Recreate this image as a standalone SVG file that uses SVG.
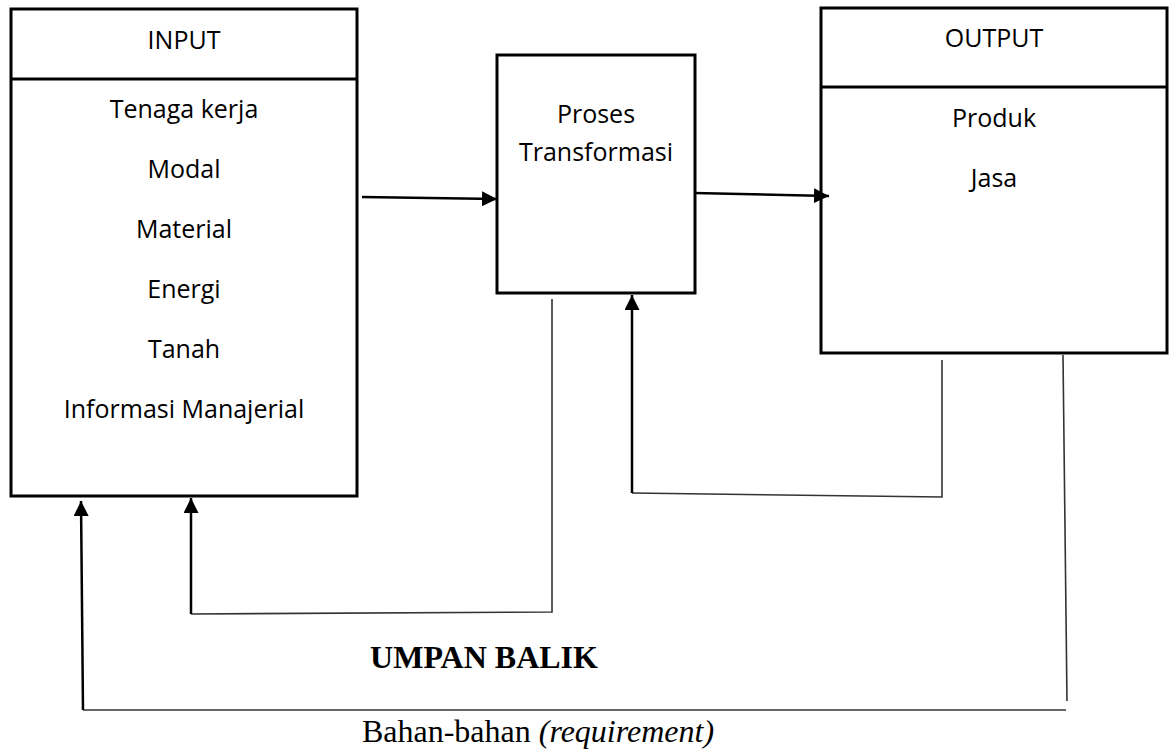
<svg xmlns="http://www.w3.org/2000/svg" width="1171" height="749" viewBox="0 0 1171 749">
  <style>
    .box { fill: #ffffff; stroke: #000000; stroke-width: 3; }
    .sep { stroke: #000000; stroke-width: 3; }
    .lbl { font-family: "Open Sans", "Noto Sans", sans-serif; font-size: 25px; fill: #000000; text-anchor: middle; }
    .thick { fill: none; stroke: #000000; stroke-width: 2.5; }
    .thin { fill: none; stroke: #333333; stroke-width: 1.6; }
    .serif { font-family: "Liberation Serif", "Times New Roman", serif; font-size: 32px; fill: #000000; }
  </style>
  <defs>
    <marker id="arr" markerUnits="userSpaceOnUse" markerWidth="16" markerHeight="15" refX="15" refY="7.5" orient="auto">
      <path d="M0,0 L15,7.5 L0,15 Z" fill="#000000"/>
    </marker>
  </defs>
  <rect width="1171" height="749" fill="#ffffff"/>

  <g id="input">
    <rect class="box" x="11" y="9" width="346" height="487"/>
    <line class="sep" x1="11" y1="79" x2="357" y2="79"/>
    <text class="lbl" x="184" y="49">INPUT</text>
    <text class="lbl" x="184" y="118">Tenaga kerja</text>
    <text class="lbl" x="184" y="178">Modal</text>
    <text class="lbl" x="184" y="238">Material</text>
    <text class="lbl" x="184" y="298">Energi</text>
    <text class="lbl" x="184" y="358">Tanah</text>
    <text class="lbl" x="184" y="418">Informasi Manajerial</text>
  </g>

  <g id="proses">
    <rect class="box" x="497" y="55" width="198" height="238"/>
    <text class="lbl" x="596" y="123">Proses</text>
    <text class="lbl" x="596" y="161">Transformasi</text>
  </g>

  <g id="output">
    <rect class="box" x="821" y="8" width="346" height="345"/>
    <line class="sep" x1="821" y1="87" x2="1167" y2="87"/>
    <text class="lbl" x="994" y="47">OUTPUT</text>
    <text class="lbl" x="994" y="127">Produk</text>
    <text class="lbl" x="994" y="187">Jasa</text>
  </g>

  <g id="connectors">
    <path class="thick" d="M362,197 L497,199" marker-end="url(#arr)"/>
    <path class="thick" d="M694,193 L829,196" marker-end="url(#arr)"/>

    <path class="thin" d="M552,299 L552,612 L191,614"/>
    <path class="thick" d="M191,614 L191,498" marker-end="url(#arr)"/>

    <path class="thin" d="M942,360 L942,497 L632,493"/>
    <path class="thick" d="M632,493 L632,295" marker-end="url(#arr)"/>

    <path class="thin" d="M1063,355 L1067,701"/>
    <path class="thin" d="M1066,710 L83,710"/>
    <path class="thick" d="M83,710 L81,501" marker-end="url(#arr)"/>
  </g>

  <g id="labels">
    <text class="serif" x="484" y="668" text-anchor="middle" font-weight="bold">UMPAN BALIK</text>
    <text class="serif" x="538" y="742" text-anchor="middle">Bahan-bahan <tspan font-style="italic">(requirement)</tspan></text>
  </g>
</svg>
